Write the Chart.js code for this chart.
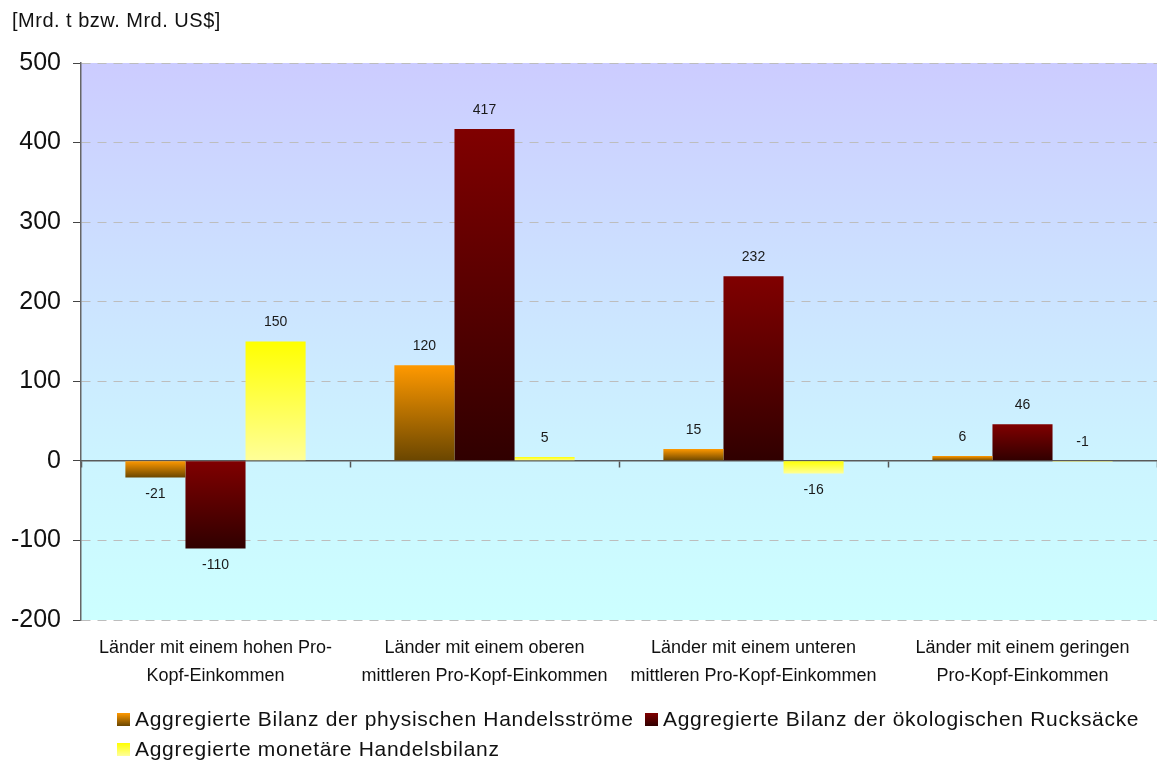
<!DOCTYPE html>
<html lang="de">
<head>
<meta charset="utf-8">
<script src="https://cdn.jsdelivr.net/npm/chart.js@4/dist/chart.umd.min.js"></script>
<style>
  html, body { margin: 0; padding: 0; background: #fff; }
  #wrap { position: relative; width: 1157px; height: 762px; font-family: "Liberation Sans", Arial, sans-serif; color: #111; }
  #chart { position: absolute; left: 0; top: 0; }
  #unit { position: absolute; left: 12px; top: 9px; font-size: 20px; letter-spacing: 0.5px; }
  .leg { position: absolute; display: flex; align-items: center; font-size: 21px; letter-spacing: 0.7px; white-space: nowrap; }
  .leg i { display: inline-block; width: 13px; height: 13px; margin-right: 5px; }
</style>
</head>
<body>
<div id="wrap">
  <canvas id="chart" width="1157" height="762"></canvas>
  <div id="unit">[Mrd. t bzw. Mrd. US$]</div>
  <div id="legend"></div>
</div>
<script>
// Ländergruppen nach Pro-Kopf-Einkommen (zweizeilige Achsenbeschriftung)
const categories = [
  ["Länder mit einem hohen Pro-", "Kopf-Einkommen"],
  ["Länder mit einem oberen", "mittleren Pro-Kopf-Einkommen"],
  ["Länder mit einem unteren", "mittleren Pro-Kopf-Einkommen"],
  ["Länder mit einem geringen", "Pro-Kopf-Einkommen"]
];
const seriesNames = [
  "Aggregierte Bilanz der physischen Handelsströme",
  "Aggregierte Bilanz der ökologischen Rucksäcke",
  "Aggregierte monetäre Handelsbilanz"
];
const physischeBilanz = [-21, 120, 15, 6];
const rucksackBilanz  = [-110, 417, 232, 46];
const monetaereBilanz = [150, 5, -16, -1];
const yTicks = [-200, -100, 0, 100, 200, 300, 400, 500];

// Farbverläufe je Reihe (oben -> unten)
const fills = [
  ["#FF9900", "#6A4600"],
  ["#800000", "#300000"],
  ["#FFFF00", "#FFFF99"]
];

function barGradient(top, bottom) {
  return (c) => {
    const chart = c.chart;
    const ys = chart.scales.y;
    if (!chart.chartArea || !ys || c.type !== 'data') return top;
    const p1 = ys.getPixelForValue(c.raw);
    const p0 = ys.getPixelForValue(0);
    const a = Math.min(p0, p1), b = Math.max(p0, p1);
    const g = chart.ctx.createLinearGradient(0, a, 0, b === a ? a + 1 : b);
    g.addColorStop(0, top);
    g.addColorStop(1, bottom);
    return g;
  };
}

// Hintergrund der Zeichenfläche
const plotBackground = {
  id: 'plotBackground',
  beforeDraw(chart) {
    const { ctx, chartArea: a, scales } = chart;
    const zero = scales.y.getPixelForValue(0);
    const g = ctx.createLinearGradient(0, a.top, 0, a.bottom);
    const f = (zero - a.top) / (a.bottom - a.top);
    g.addColorStop(0, '#CCCCFF');
    g.addColorStop(f, '#CCF4FF');
    g.addColorStop(1, '#CCFFFF');
    ctx.save();
    ctx.fillStyle = g;
    ctx.fillRect(a.left, a.top, a.right - a.left, a.bottom - a.top);
    ctx.restore();
  }
};

// Wertbeschriftungen an den Balkenenden
const valueLabels = {
  id: 'valueLabels',
  afterDatasetsDraw(chart) {
    const ctx = chart.ctx;
    ctx.save();
    ctx.font = '14px "Liberation Sans", Arial, sans-serif';
    ctx.fillStyle = '#1a1a1a';
    ctx.textAlign = 'center';
    ctx.textBaseline = 'middle';
    chart.data.datasets.forEach((ds, i) => {
      chart.getDatasetMeta(i).data.forEach((el, j) => {
        const v = ds.data[j];
        const h = Math.abs(el.base - el.y);
        let y;
        if (v < 0 && h >= 4) y = Math.max(el.y, el.base) + 17;
        else y = Math.min(el.y, el.base) - 19;
        ctx.fillText(String(v), el.x, y);
      });
    });
    ctx.restore();
  }
};

const seriesData = [physischeBilanz, rucksackBilanz, monetaereBilanz];

new Chart(document.getElementById('chart'), {
  type: 'bar',
  data: {
    labels: categories,
    datasets: seriesData.map((d, i) => ({
      label: seriesNames[i],
      data: d,
      backgroundColor: barGradient(fills[i][0], fills[i][1]),
      borderWidth: 0,
      barPercentage: 1.0,
      categoryPercentage: 0.67
    }))
  },
  options: {
    responsive: false,
    animation: false,
    devicePixelRatio: 1,
    layout: { padding: { top: 63, left: 0, right: 0, bottom: 72 } },
    plugins: {
      legend: { display: false },
      tooltip: { enabled: false },
      title: { display: false }
    },
    scales: {
      y: {
        min: -200,
        max: 500,
        afterBuildTicks: (s) => { s.ticks = yTicks.map(v => ({ value: v })); },
        afterFit: (s) => { s.width = 81; },
        ticks: {
          font: { family: '"Liberation Sans", Arial, sans-serif', size: 25 },
          color: '#111',
          padding: 12
        },
        grid: {
          color: '#BDBDBD',
          lineWidth: 1,
          tickLength: 8,
          tickColor: '#444',
          tickWidth: 1
        },
        border: { display: true, color: '#666', width: 1.5, dash: [9, 7] }
      },
      x: {
        position: { y: 0 },
        z: 1,
        ticks: { display: false },
        grid: {
          offset: true,
          drawOnChartArea: false,
          drawTicks: true,
          tickLength: 6,
          tickColor: '#555',
          tickWidth: 1.5
        },
        border: { display: true, color: '#5a5a5a', width: 1.5 }
      },
      xLabels: {
        type: 'category',
        position: 'bottom',
        afterFit: (s) => { s.height = 70; },
        ticks: {
          font: { family: '"Liberation Sans", Arial, sans-serif', size: 18, lineHeight: 1.55 },
          color: '#111',
          padding: 14,
          maxRotation: 0,
          autoSkip: false
        },
        grid: { display: false, drawTicks: false },
        border: { display: false }
      }
    }
  },
  plugins: [plotBackground, valueLabels]
});

// Legende unterhalb der Grafik
const legendPos = [[117, 707], [645, 707], [117, 737]];
const legend = document.getElementById('legend');
seriesNames.forEach((name, i) => {
  const item = document.createElement('div');
  item.className = 'leg';
  item.style.left = legendPos[i][0] + 'px';
  item.style.top = legendPos[i][1] + 'px';
  const box = document.createElement('i');
  box.style.background = `linear-gradient(${fills[i][0]}, ${fills[i][1]})`;
  item.appendChild(box);
  item.appendChild(document.createTextNode(name));
  legend.appendChild(item);
});
</script>
</body>
</html>
